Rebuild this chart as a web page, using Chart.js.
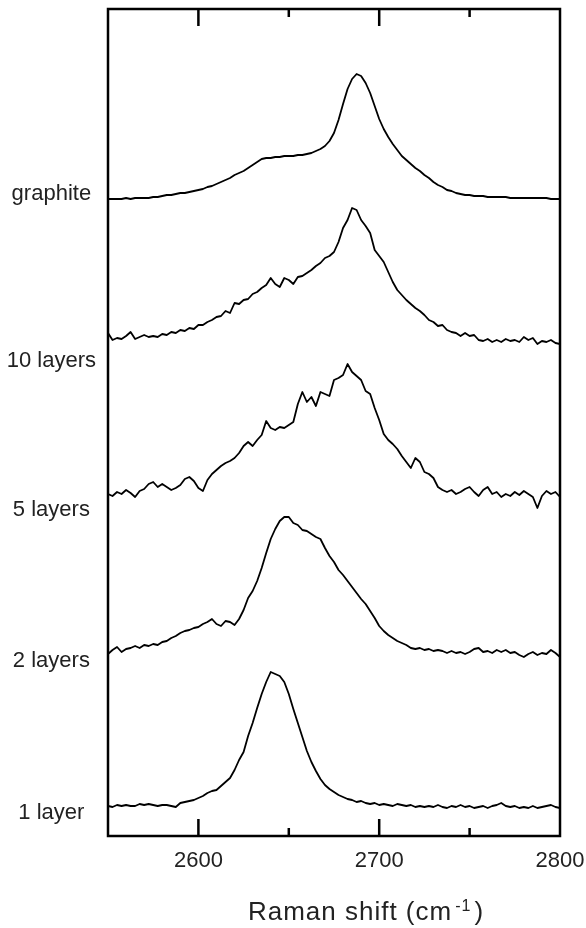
<!DOCTYPE html>
<html><head><meta charset="utf-8">
<script src="https://cdn.jsdelivr.net/npm/chart.js@4"></script>
<style>html,body{margin:0;padding:0;background:#fff}#wrap{width:586px;height:928px}</style>
</head><body><div id="wrap"><canvas id="c" width="586" height="928"></canvas></div>
<script>
// Raman shift sampling grid (cm-1)
const ramanShift = [
2550,2552.5,2555,2557.5,2560,2562.5,2565,2567.5,2570,2572.5,
2575,2577.5,2580,2582.5,2585,2587.5,2590,2592.5,2595,2597.5,
2600,2602.5,2605,2607.5,2610,2612.5,2615,2617.5,2620,2622.5,
2625,2627.5,2630,2632.5,2635,2637.5,2640,2642.5,2645,2647.5,
2650,2652.5,2655,2657.5,2660,2662.5,2665,2667.5,2670,2672.5,
2675,2677.5,2680,2682.5,2685,2687.5,2690,2692.5,2695,2697.5,
2700,2702.5,2705,2707.5,2710,2712.5,2715,2717.5,2720,2722.5,
2725,2727.5,2730,2732.5,2735,2737.5,2740,2742.5,2745,2747.5,
2750,2752.5,2755,2757.5,2760,2762.5,2765,2767.5,2770,2772.5,
2775,2777.5,2780,2782.5,2785,2787.5,2790,2792.5,2795,2797.5,
2800];

// Offset-stacked intensities (a.u.)
const graphite = [
637,637,637,637,638,637,638,638,638,638,
639,639,640,641,641,642,643,643,644,645,
646,647,649,650,652,654,656,658,661,663,
665,668,671,674,677,678,678,679,679,680,
680,680,681,681,682,683,685,687,690,695,
703,716,732,747,757,762,760,753,743,730,
717,707,699,692,686,680,676,672,668,665,
661,658,654,651,649,646,645,643,642,641,
641,640,640,640,639,639,639,639,639,638,
638,638,638,638,638,638,638,638,637,637,
637];

const tenLayers = [
503,496,498,497,500,504,497,499,501,499,
500,499,502,501,504,503,506,505,508,507,
511,511,514,516,519,520,525,523,533,532,
536,537,542,544,548,551,558,552,549,558,
556,552,559,560,563,566,570,573,578,580,
584,594,608,616,628,626,616,610,603,586,
580,574,564,554,546,541,536,532,528,525,
521,516,514,510,511,506,504,503,500,503,
500,501,496,495,497,494,496,494,497,495,
496,494,499,496,498,492,495,494,496,493,
492];

const fiveLayers = [
342,340,344,342,346,343,339,345,347,352,
354,349,352,349,346,348,351,357,359,355,
348,345,356,362,366,370,373,375,378,383,
390,394,390,396,401,415,408,406,409,408,
411,414,432,444,434,439,430,444,442,440,
456,458,461,472,464,460,456,445,442,428,
416,402,396,392,387,380,374,368,378,374,
364,362,358,349,346,344,346,342,344,347,
349,344,340,346,349,342,344,339,342,340,
344,341,345,342,339,328,340,345,342,344,
339];

const twoLayers = [
182,186,189,184,187,188,190,188,191,190,
192,191,194,195,198,200,203,205,206,208,
209,212,214,217,212,210,215,214,211,217,
226,238,245,255,268,283,297,307,315,319,
319,313,311,306,305,302,299,297,288,280,
274,266,261,255,249,243,237,232,225,218,
210,205,201,198,195,193,191,188,187,188,
186,187,185,186,185,183,185,183,184,182,
184,187,188,184,185,183,186,184,186,183,
184,181,179,182,184,181,183,182,186,183,
179];

const oneLayer = [
30,29,31,30,31,30,30,32,31,32,
31,30,31,31,30,29,33,34,35,36,
38,40,43,45,46,50,54,58,66,76,
84,100,113,128,142,154,164,162,160,154,
142,127,113,99,85,74,65,57,51,47,
44,41,39,37,36,34,35,33,32,33,
31,32,31,30,32,31,30,31,29,30,
29,30,29,31,29,28,30,29,31,29,
30,28,29,30,28,30,31,33,30,29,
30,28,29,28,30,28,29,30,31,29,
28];

const sampleLabels = ['graphite', '10 layers', '5 layers', '2 layers', '1 layer'];
const labelLevels = [642, 475, 326, 175, 23];
const xTickLabels = [2600, 2700, 2800];
const majorTicks = [2600, 2700];
const minorTicks = [2650, 2750];
const xRange = [2550, 2800];
const yRange = [0, 827];

const FONT = "'Liberation Sans', Arial, Helvetica, sans-serif";
const seriesList = [graphite, tenLayers, fiveLayers, twoLayers, oneLayer];

const framePlugin = {
  id: 'frame',
  afterDraw(chart) {
    const {ctx, chartArea, scales} = chart;
    const {left, top, right, bottom} = chartArea;
    const x = scales.x;
    ctx.save();
    ctx.strokeStyle = '#000';
    ctx.lineWidth = 2.5;
    ctx.strokeRect(left, top, right - left, bottom - top);
    const drawTicks = (vals, len) => {
      vals.forEach(v => {
        const px = x.getPixelForValue(v);
        ctx.beginPath();
        ctx.moveTo(px, bottom); ctx.lineTo(px, bottom - len);
        ctx.moveTo(px, top); ctx.lineTo(px, top + len);
        ctx.stroke();
      });
    };
    drawTicks(majorTicks, 17);
    drawTicks(minorTicks, 8);

    // axis title with superscript
    ctx.fillStyle = '#222';
    ctx.textBaseline = 'alphabetic';
    ctx.textAlign = 'left';
    const main = 'Raman shift (cm', sup = '-1', close = ')';
    ctx.font = '26px ' + FONT;
    if ('letterSpacing' in ctx) ctx.letterSpacing = '1px';
    const w1 = ctx.measureText(main).width;
    const w3 = ctx.measureText(close).width;
    ctx.font = '16px ' + FONT;
    const w2 = ctx.measureText(sup).width + 6;
    const total = w1 + w2 + w3;
    const cx = (left + right) / 2 + 32;
    const x0 = cx - total / 2;
    const base = bottom + 84;
    ctx.font = '26px ' + FONT;
    ctx.fillText(main, x0, base);
    ctx.font = '16px ' + FONT;
    ctx.fillText(sup, x0 + w1 + 3, base - 9);
    ctx.font = '26px ' + FONT;
    ctx.fillText(close, x0 + w1 + w2, base);
    ctx.restore();
  }
};

new Chart(document.getElementById('c'), {
  type: 'line',
  data: {
    datasets: seriesList.map((s, k) => ({
      label: sampleLabels[k],
      data: ramanShift.map((v, i) => ({x: v, y: s[i]})),
      borderColor: '#000',
      borderWidth: 1.8,
      borderJoinStyle: 'round',
      pointRadius: 0,
      fill: false,
      tension: 0
    }))
  },
  options: {
    responsive: false,
    animation: false,
    devicePixelRatio: 1,
    layout: {padding: {left: 0, right: 26, top: 9, bottom: 0}},
    plugins: {legend: {display: false}, tooltip: {enabled: false}, title: {display: false}},
    scales: {
      x: {
        type: 'linear',
        min: xRange[0], max: xRange[1],
        grid: {display: false, drawTicks: false},
        border: {display: false},
        afterBuildTicks: axis => { axis.ticks = xTickLabels.map(v => ({value: v})); },
        ticks: {padding: 12, color: '#222', font: {size: 22, family: FONT}, maxRotation: 0, autoSkip: false,
                callback: v => String(v)},
        afterFit: s => { s.height = 92; s.paddingLeft = 0; s.paddingRight = 0; }
      },
      y: {
        type: 'linear',
        min: yRange[0], max: yRange[1],
        grid: {display: false, drawTicks: false},
        border: {display: false},
        afterBuildTicks: axis => { axis.ticks = labelLevels.slice().sort((a, b) => a - b).map(v => ({value: v})); },
        ticks: {padding: 12, crossAlign: 'center', color: '#222', font: {size: 22, family: FONT}, autoSkip: false,
                callback: v => sampleLabels[labelLevels.indexOf(v)]},
        afterFit: s => { s.width = 108; s.paddingTop = 0; s.paddingBottom = 0; }
      }
    }
  },
  plugins: [framePlugin]
});
</script>
</body></html>
